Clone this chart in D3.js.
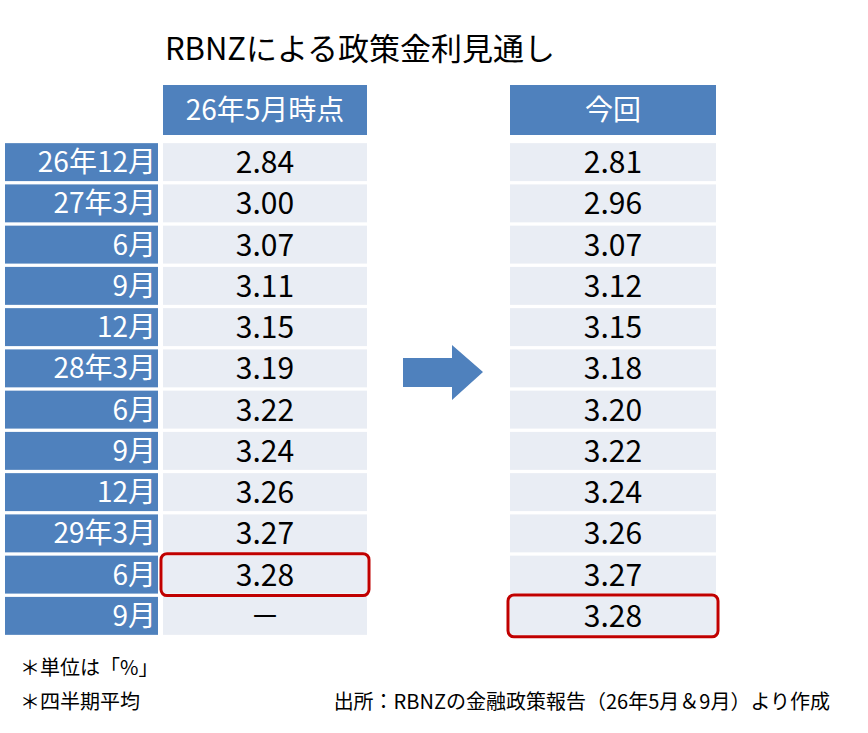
<!DOCTYPE html>
<html><head><meta charset="utf-8">
<script src="https://cdn.jsdelivr.net/npm/d3@7"></script>
<style>body{margin:0;background:#fff}</style></head>
<body><script>
const title = "RBNZによる政策金利見通し";
const periods = ["26年12月","27年3月","6月","9月","12月","28年3月","6月","9月","12月","29年3月","6月","9月"];
const colHeaders = ["26年5月時点","今回"];
const mayValues = ["2.84","3.00","3.07","3.11","3.15","3.19","3.22","3.24","3.26","3.27","3.28","－"];
const sepValues = ["2.81","2.96","3.07","3.12","3.15","3.18","3.20","3.22","3.24","3.26","3.27","3.28"];
const highlightIdx = [10, 11];
const notes = ["＊単位は「%」","＊四半期平均"];
const source = "出所：RBNZの金融政策報告（26年5月＆9月）より作成";

const font = "'Noto Sans CJK JP','Noto Sans',sans-serif";
const blue = "#4f81bd", light = "#e9edf4", red = "#c00000";
const svg = d3.select("body").append("svg").attr("width",868).attr("height",733);

const y = d3.scaleBand().domain(d3.range(periods.length)).range([141.5,636.5]).paddingInner(0.08).paddingOuter(0.04);
const cols = [{x:163,w:204,vals:mayValues},{x:510,w:206,vals:sepValues}];

svg.append("text").attr("x",360).attr("y",60).attr("text-anchor","middle")
  .attr("font-family",font).attr("font-size",31).text(title);

cols.forEach((c,ci)=>{
  svg.append("rect").attr("x",c.x).attr("y",85).attr("width",c.w).attr("height",50).attr("fill",blue);
  svg.append("text").attr("x",c.x+c.w/2).attr("y",120).attr("text-anchor","middle")
    .attr("fill","#fff").attr("font-family",font).attr("font-size",28).text(colHeaders[ci]);
  const g = svg.append("g");
  g.selectAll("rect").data(c.vals).join("rect").attr("x",c.x).attr("y",(d,i)=>y(i))
    .attr("width",c.w).attr("height",y.bandwidth()).attr("fill",light);
  g.selectAll("text").data(c.vals).join("text").attr("x",c.x+c.w/2).attr("y",(d,i)=>y(i)+y.bandwidth()/2+11)
    .attr("text-anchor","middle").attr("font-family",font).attr("font-size",30).text(d=>d);
  const hi = highlightIdx[ci];
  svg.append("rect").attr("x",c.x-2).attr("y",y(hi)-2).attr("width",c.w+4).attr("height",y.bandwidth()+4)
    .attr("rx",6).attr("fill","none").attr("stroke",red).attr("stroke-width",3);
});

const lg = svg.append("g");
lg.selectAll("rect").data(periods).join("rect").attr("x",5).attr("y",(d,i)=>y(i))
  .attr("width",153).attr("height",y.bandwidth()).attr("fill",blue);
lg.selectAll("text").data(periods).join("text").attr("x",156).attr("y",(d,i)=>y(i)+y.bandwidth()/2+10)
  .attr("text-anchor","end").attr("fill","#fff").attr("font-family",font).attr("font-size",28).text(d=>d);

svg.append("path").attr("d","M403,358H452V345L483,372L452,400V387H403Z").attr("fill",blue);

notes.forEach((n,i)=>svg.append("text").attr("x",20).attr("y",675+i*34)
  .attr("font-family",font).attr("font-size",20).text(n));
svg.append("text").attr("x",830).attr("y",709).attr("text-anchor","end")
  .attr("font-family",font).attr("font-size",20).text(source);
</script></body></html>
